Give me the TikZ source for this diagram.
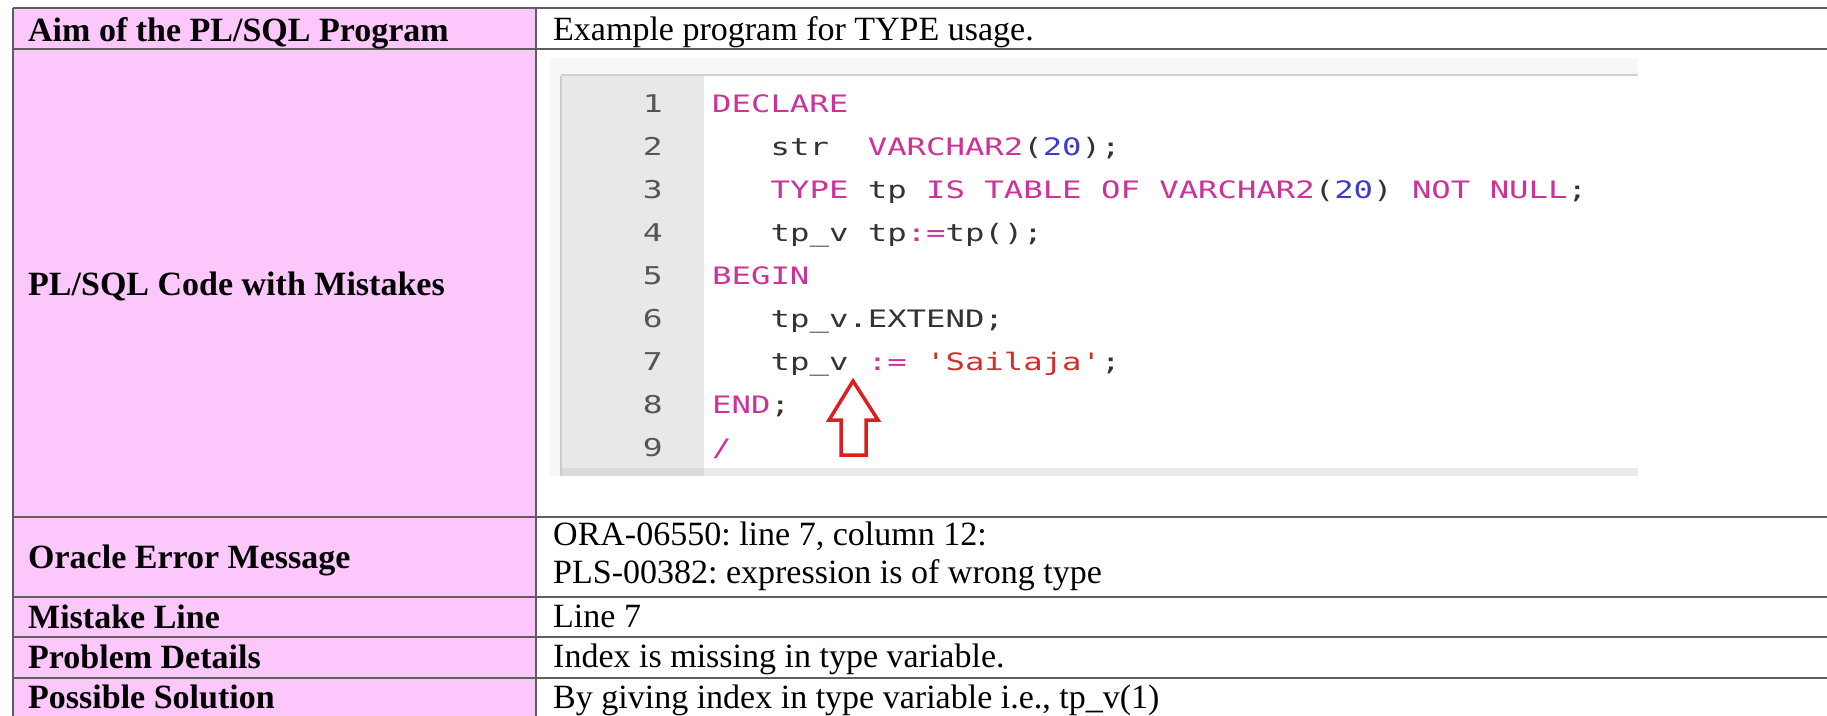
\documentclass[tikz,border=0pt]{standalone}
\usepackage{fontspec}
\setmainfont{Liberation Serif}
\newfontfamily\codefont[FakeStretch=1.345,Ligatures=TeXOff]{DejaVu Sans Mono}
\definecolor{pinkcell}{RGB}{252,200,252}
\definecolor{gridline}{RGB}{95,95,95}
\definecolor{kwcol}{RGB}{204,51,153}
\definecolor{numcol}{RGB}{60,60,200}
\definecolor{strcol}{RGB}{210,45,45}
\definecolor{plaincol}{RGB}{51,51,51}
\definecolor{lnumcol}{RGB}{85,85,85}
\definecolor{guttercol}{RGB}{232,232,232}
\definecolor{arrowcol}{RGB}{220,30,30}
\tikzset{
  labtext/.style={inner sep=0pt, anchor=base west, font=\fontsize{34}{38}\selectfont\bfseries\frenchspacing},
  valtext/.style={inner sep=0pt, anchor=base west, font=\fontsize{34}{38}\selectfont\frenchspacing},
  codeline/.style={inner sep=0pt, anchor=base west, text=plaincol, font=\codefont\fontsize{24}{28}\selectfont},
  linenum/.style={inner sep=0pt, anchor=base east, text=lnumcol, font=\codefont\fontsize{24.5}{28}\selectfont},
  grid/.style={draw=gridline, line width=2pt},
}
\newcommand{\kw}[1]{\textcolor{kwcol}{#1}}
\newcommand{\nm}[1]{\textcolor{numcol}{#1}}
\newcommand{\st}[1]{\textcolor{strcol}{#1}}
\begin{document}
\begin{tikzpicture}[x=1pt,y=-1pt]
\fill[white] (0,0) rectangle (1827,715);
\useasboundingbox (0,0) rectangle (1827,715);
% left column fill
\fill[pinkcell] (13,8) rectangle (536,720);
% code screenshot
\fill[white!97!black] (550,58) rectangle (1638,476);
\fill[white!97!black] (550,58) rectangle (1638,75);
\fill[guttercol] (561,76) rectangle (704,468);
\fill[white] (704,76) rectangle (1638,468);
\fill[white!92!black] (561,468) rectangle (1638,476);
\fill[white!86!black] (561,468) rectangle (704,476);
\draw[white!82!black, line width=1.5pt] (561,75) -- (1638,75);
\draw[white!80!black, line width=1.5pt] (561,76) -- (561,476);
% grid
\foreach \yy in {8,49,517,597,637,678} \draw[grid] (13,\yy) -- (1827,\yy);
\draw[grid] (13,8) -- (13,720);
\draw[grid] (536,8) -- (536,720);
% left labels
\node[labtext] (l1) at (28,41) {Aim of the PL/SQL Program};
\node[labtext] (l2) at (28,295) {PL/SQL Code with Mistakes};
\node[labtext] (l3) at (28,568) {Oracle Error Message};
\node[labtext] (l4) at (28,628) {Mistake Line};
\node[labtext] (l5) at (28,668) {Problem Details};
\node[labtext] (l6) at (28,708) {Possible Solution};
% right values
\node[valtext] (v1) at (553,40) {Example program for TYPE usage.};
\node[valtext] (v3a) at (553,545) {ORA-06550: line 7, column 12:};
\node[valtext] (v3b) at (553,583) {PLS-00382: expression is of wrong type};
\node[valtext] (v4) at (553,627) {Line 7};
\node[valtext] (v5) at (553,667) {Index is missing in type variable.};
\node[valtext] (v6) at (553,708) {By giving index in type variable i.e., tp\_v(1)};
% line numbers
\foreach \i in {1,...,9} \node[linenum] (n\i) at (663,{112+(\i-1)*43.1}) {\i};
% code
\node[codeline] (c1) at (712,112) {\kw{DECLARE}};
\node[codeline] (c2) at (770.5,155.1) {str~~\kw{VARCHAR2}(\nm{20});};
\node[codeline] (c3) at (770.5,198.2) {\kw{TYPE} tp \kw{IS TABLE OF VARCHAR2}(\nm{20}) \kw{NOT NULL};};
\node[codeline] (c4) at (770.5,241.3) {tp\_v tp\kw{:=}tp();};
\node[codeline] (c5) at (712,284.4) {\kw{BEGIN}};
\node[codeline] (c6) at (770.5,327.5) {tp\_v.EXTEND;};
\node[codeline] (c7) at (770.5,370.6) {tp\_v \kw{:=} \st{'Sailaja'};};
\node[codeline] (c8) at (712,413.7) {\kw{END};};
\node[codeline] (c9) at (712,456.8) {\kw{/}};
% red arrow
\draw[arrowcol, line width=3.5pt, line join=miter] (853,381) -- (878,420) -- (866,420) -- (866,455) -- (841,455) -- (841,420) -- (829,420) -- cycle;
\end{tikzpicture}
\end{document}
